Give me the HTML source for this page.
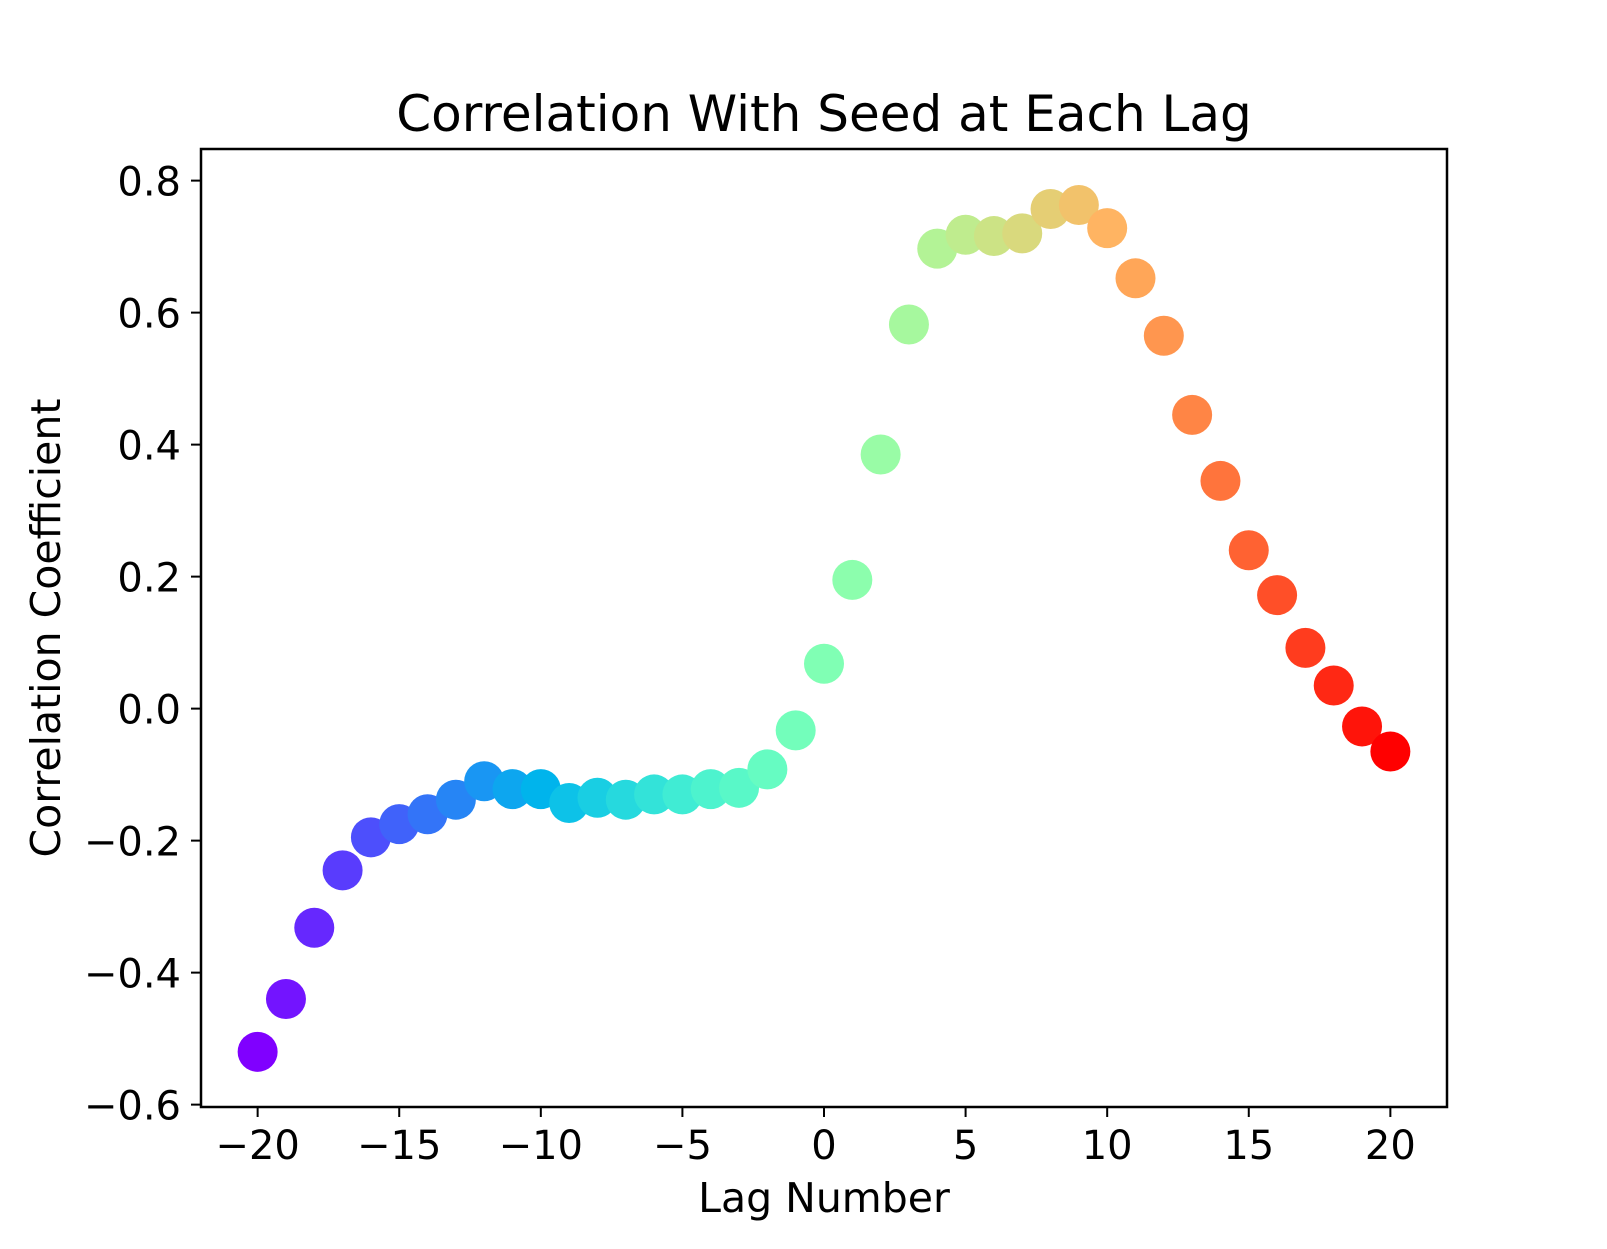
<!DOCTYPE html>
<html><head><meta charset="utf-8"><style>
html,body{margin:0;padding:0;background:#fff;}
svg text{font-family:"DejaVu Sans","Liberation Sans",sans-serif;fill:#000;}
</style></head><body>
<svg id="chart" width="1607" height="1244" viewBox="0 0 1607 1244" xmlns="http://www.w3.org/2000/svg">
<rect width="1607" height="1244" fill="#fff"/>
<text x="824" y="131" font-size="50" text-anchor="middle">Correlation With Seed at Each Lag</text>
<g id="marks"></g>
<rect x="201" y="149" width="1246" height="958" fill="none" stroke="#000" stroke-width="2.5"/>
<g id="xticks"></g><g id="yticks"></g>
<text x="824" y="1212" font-size="41" text-anchor="middle">Lag Number</text>
<text transform="translate(60,628) rotate(-90)" font-size="41" text-anchor="middle">Correlation Coefficient</text>
</svg>
<script>
const lags = [-20,-19,-18,-17,-16,-15,-14,-13,-12,-11,-10,-9,-8,-7,-6,-5,-4,-3,-2,-1,0,1,2,3,4,5,6,7,8,9,10,11,12,13,14,15,16,17,18,19,20];
const corr = [-0.52,-0.44,-0.332,-0.245,-0.195,-0.175,-0.16,-0.138,-0.11,-0.122,-0.122,-0.143,-0.135,-0.138,-0.13,-0.13,-0.122,-0.12,-0.092,-0.033,0.068,0.195,0.385,0.582,0.697,0.718,0.716,0.72,0.757,0.763,0.728,0.652,0.565,0.445,0.345,0.24,0.172,0.092,0.035,-0.027,-0.065];
const xTicks = [-20,-15,-10,-5,0,5,10,15,20];
const yTicks = [-0.6,-0.4,-0.2,0.0,0.2,0.4,0.6,0.8];
const NS="http://www.w3.org/2000/svg";
const X0=201,X1=1447,Y0=1107,Y1=149;
const xMin=-22,xMax=22,yMin=-0.6036,yMax=0.8479;
function xs(v){return X0+(v-xMin)/(xMax-xMin)*(X1-X0);}
function ys(v){return Y0-(v-yMin)/(yMax-yMin)*(Y0-Y1);}
function rainbow(t){
  const r=Math.min(1,Math.abs(2*t-0.5)),g=Math.sin(Math.PI*t),b=Math.cos(Math.PI*t/2);
  return `rgb(${Math.round(r*255)},${Math.round(g*255)},${Math.round(b*255)})`;
}
const marks=document.getElementById('marks');
lags.forEach((l,i)=>{
  const c=document.createElementNS(NS,'circle');
  c.setAttribute('cx',xs(l));c.setAttribute('cy',ys(corr[i]));c.setAttribute('r',20);
  c.setAttribute('fill',rainbow(i/(lags.length-1)));
  
  
  marks.appendChild(c);
});
const fmt=v=>(v<0?'\u2212':'')+Math.abs(v);
const xg=document.getElementById('xticks');
xTicks.forEach(t=>{
  const x=xs(t);
  const ln=document.createElementNS(NS,'line');
  ln.setAttribute('x1',x);ln.setAttribute('x2',x);ln.setAttribute('y1',Y0);ln.setAttribute('y2',Y0+10);
  ln.setAttribute('stroke','#000');ln.setAttribute('stroke-width','2');
  
  
  xg.appendChild(ln);
  const tx=document.createElementNS(NS,'text');
  tx.setAttribute('x',x);tx.setAttribute('y',Y0+52);tx.setAttribute('font-size','40');tx.setAttribute('text-anchor','middle');
  tx.textContent=fmt(t);
  
  
  xg.appendChild(tx);
});
const yg=document.getElementById('yticks');
yTicks.forEach(t=>{
  const y=ys(t);
  const ln=document.createElementNS(NS,'line');
  ln.setAttribute('x1',X0-10);ln.setAttribute('x2',X0);ln.setAttribute('y1',y);ln.setAttribute('y2',y);
  ln.setAttribute('stroke','#000');ln.setAttribute('stroke-width','2');
  
  
  yg.appendChild(ln);
  const tx=document.createElementNS(NS,'text');
  tx.setAttribute('x',X0-20);tx.setAttribute('y',y+15);tx.setAttribute('font-size','40');tx.setAttribute('text-anchor','end');
  tx.textContent=fmt(t).replace(/^(\u2212?)(\d)$/,'$1$2.0').replace(/^(\u2212?\d\.\d)\d*$/,'$1');
  
  
  yg.appendChild(tx);
});
</script>
</body></html>
